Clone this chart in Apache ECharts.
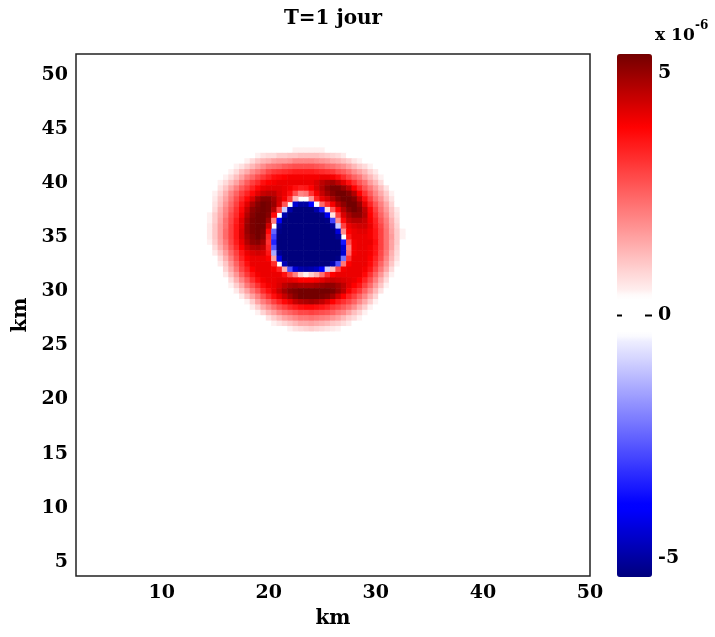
<!DOCTYPE html>
<html><head><meta charset="utf-8">
<script src="https://cdn.jsdelivr.net/npm/echarts@6/dist/echarts.min.js"></script>
<style>html,body{margin:0;padding:0;background:#fff}#c{width:715px;height:637px}</style>
</head><body><div id="c"></div>
<script>
// ---- text / ticks ----
var titleText = 'T=1 jour';
var axisNameText = 'km';
var xTickValues = [10, 20, 30, 40, 50];
var yTickValues = [5, 10, 15, 20, 25, 30, 35, 40, 45, 50];
var cbTickValues = [-5, 0, 5];
var cbMarkTicks = [0];
var cbScaleText = 'x 10';
var cbScaleExp = '-6';

// ---- field grid (km cell centres) ----
var gridX = [14,14.5,15,15.5,16,16.5,17,17.5,18,18.5,19,19.5,20,20.5,21,21.5,22,22.5,23,23.5,24,24.5,25,25.5,26,26.5,27,27.5,28,28.5,29,29.5,30,30.5,31,31.5,32,32.5];
var gridY = [43,42.5,42,41.5,41,40.5,40,39.5,39,38.5,38,37.5,37,36.5,36,35.5,35,34.5,34,33.5,33,32.5,32,31.5,31,30.5,30,29.5,29,28.5,28,27.5,27,26.5,26];

// values in units of 1e-6, one row per gridY entry, one column per gridX entry
var field = [
[0,0,0,0,0,0,0,0,0,0.1,0.1,0.2,0.2,0.3,0.3,0.3,0.4,0.5,0.5,0.5,0.5,0.5,0.5,0.4,0.3,0.3,0.2,0.1,0.1,0,0,0,0,0,0,0,0,0],
[0,0,0,0,0,0,0,0.1,0.2,0.3,0.5,0.7,0.8,0.8,1.0,1.0,1.1,1.1,1.2,1.2,1.2,1.2,1.1,1.0,0.9,0.8,0.6,0.4,0.3,0.2,0.1,0,0,0,0,0,0,0],
[0,0,0,0,0,0,0.2,0.3,0.5,0.8,1.1,1.3,1.4,1.6,1.7,1.7,1.8,2.0,2.0,2.0,2.0,1.9,1.8,1.7,1.5,1.4,1.2,1.0,0.7,0.5,0.3,0.1,0,0,0,0,0,0],
[0,0,0,0,0,0.2,0.5,0.7,1.0,1.3,1.6,1.9,2.2,2.3,2.4,2.6,2.7,2.8,2.8,2.8,2.8,2.7,2.6,2.4,2.3,2.1,1.9,1.6,1.3,1.0,0.8,0.5,0.3,0.1,0,0,0,0],
[0,0,0,0,0.2,0.5,0.8,1.2,1.5,1.9,2.2,2.5,2.9,3.1,3.2,3.3,3.4,3.5,3.5,3.5,3.5,3.4,3.3,3.2,3.1,2.8,2.6,2.3,1.9,1.6,1.3,0.9,0.6,0.2,0.1,0,0,0],
[0,0,0,0.2,0.5,0.8,1.2,1.6,2.1,2.4,2.8,3.1,3.4,3.7,3.8,3.9,4.0,4.0,4.0,4.0,4.0,4.0,4.1,4.1,4.0,3.7,3.3,2.9,2.5,2.2,1.7,1.3,0.9,0.5,0.2,0,0,0],
[0,0,0.2,0.5,0.8,1.2,1.6,2.1,2.6,3.0,3.3,3.7,3.9,4.0,4.1,4.1,4.1,4.1,4.1,4.1,4.1,4.3,4.6,4.8,4.9,4.6,4.2,3.7,3.2,2.7,2.3,1.7,1.3,0.8,0.4,0.1,0,0],
[0,0.1,0.3,0.7,1.1,1.6,2.1,2.6,3.0,3.4,3.8,4.1,4.2,4.2,4.2,4.1,4.0,3.7,3.5,3.6,3.9,4.3,4.7,5.1,5.3,5.3,5.0,4.6,3.9,3.3,2.7,2.2,1.7,1.2,0.7,0.3,0.1,0],
[0,0.2,0.5,0.9,1.4,2.0,2.5,3.0,3.4,3.8,4.2,4.5,4.6,4.6,4.3,4.1,3.7,2.8,2.0,2.2,3.2,4.0,4.5,4.9,5.2,5.4,5.4,5.2,4.7,3.9,3.2,2.6,2.0,1.5,1.0,0.5,0.2,0],
[0,0.2,0.6,1.1,1.6,2.2,2.8,3.3,3.8,4.3,4.9,5.2,5.2,4.9,4.4,4.0,3.1,1.3,0,0,1.8,3.4,4.1,4.4,4.8,5.2,5.4,5.4,5.2,4.5,3.7,3.0,2.3,1.8,1.2,0.7,0.3,0.1],
[0.1,0.3,0.7,1.2,1.8,2.4,3.0,3.6,4.2,4.8,5.2,5.4,5.3,5.0,4.3,2.7,0,-4.5,-5.0,-5.0,-4.0,0.3,2.4,3.3,4.0,4.7,5.1,5.4,5.4,5.0,4.2,3.4,2.7,2.1,1.5,0.9,0.4,0.1],
[0.1,0.4,0.8,1.4,2.0,2.6,3.2,3.8,4.5,5.1,5.3,5.4,5.3,4.7,3.0,-1.0,-4.9,-5.4,-5.4,-5.4,-5.4,-4.9,-3.6,0.7,2.7,3.9,4.7,5.2,5.4,5.2,4.6,3.8,3.0,2.3,1.7,1.1,0.6,0.2],
[0.2,0.5,1.0,1.5,2.1,2.8,3.3,4.0,4.7,5.2,5.4,5.4,5.2,3.8,0,-4.9,-5.4,-5.4,-5.4,-5.4,-5.4,-5.4,-5.3,-4.2,0.7,3.0,4.3,4.8,5.1,5.1,4.7,3.9,3.2,2.5,1.9,1.2,0.7,0.2],
[0.2,0.5,1.0,1.6,2.3,2.9,3.5,4.2,4.9,5.3,5.4,5.4,4.9,2.1,-4.0,-5.4,-5.4,-5.4,-5.4,-5.4,-5.4,-5.4,-5.4,-5.3,-3.0,1.9,3.8,4.5,4.7,4.7,4.5,4.0,3.4,2.7,2.1,1.4,0.8,0.3],
[0.2,0.6,1.1,1.7,2.3,3.0,3.6,4.2,5.0,5.3,5.4,5.4,4.4,0,-5.1,-5.4,-5.4,-5.4,-5.4,-5.4,-5.4,-5.4,-5.4,-5.4,-5.1,-1.0,3.0,4.1,4.3,4.4,4.4,4.1,3.5,2.9,2.2,1.5,0.9,0.4],
[0.2,0.6,1.1,1.7,2.4,3.0,3.6,4.3,5.0,5.3,5.4,5.3,3.8,-2.5,-5.3,-5.4,-5.4,-5.4,-5.4,-5.4,-5.4,-5.4,-5.4,-5.4,-5.4,-4.4,1.9,3.9,4.1,4.2,4.2,4.0,3.6,3.0,2.3,1.6,1.0,0.5],
[0.2,0.6,1.1,1.7,2.4,3.0,3.6,4.3,4.9,5.2,5.4,5.2,3.4,-3.0,-5.4,-5.4,-5.4,-5.4,-5.4,-5.4,-5.4,-5.4,-5.4,-5.4,-5.4,-5.1,0,3.6,4.1,4.1,4.1,4.0,3.6,3.0,2.3,1.7,1.0,0.5],
[0.1,0.5,1.0,1.6,2.2,2.9,3.5,4.1,4.7,5.1,5.2,4.9,3.2,-3.4,-5.4,-5.4,-5.4,-5.4,-5.4,-5.4,-5.4,-5.4,-5.4,-5.4,-5.4,-5.4,-3.6,2.8,4.0,4.1,4.1,4.1,3.7,3.0,2.3,1.6,1.0,0.4],
[0.1,0.3,0.8,1.4,2.0,2.7,3.3,3.9,4.4,4.7,4.8,4.6,3.4,-2.7,-5.4,-5.4,-5.4,-5.4,-5.4,-5.4,-5.4,-5.4,-5.4,-5.4,-5.4,-5.4,-4.5,2.2,4.0,4.1,4.1,4.0,3.6,3.0,2.3,1.6,0.9,0.4],
[0,0.2,0.6,1.1,1.7,2.4,3.0,3.6,4.1,4.3,4.4,4.3,3.6,-1.5,-5.2,-5.4,-5.4,-5.4,-5.4,-5.4,-5.4,-5.4,-5.4,-5.4,-5.4,-5.4,-4.5,2.4,4.0,4.1,4.1,4.0,3.6,2.9,2.2,1.4,0.8,0.3],
[0,0.1,0.3,0.8,1.4,2.1,2.8,3.4,3.9,4.1,4.1,4.1,3.9,1.6,-4.3,-5.4,-5.4,-5.4,-5.4,-5.4,-5.4,-5.4,-5.4,-5.4,-5.4,-5.3,-2.3,3.2,4.1,4.1,4.1,3.9,3.4,2.8,2.0,1.3,0.7,0.2],
[0,0,0.2,0.6,1.1,1.8,2.5,3.1,3.7,4.1,4.1,4.1,4.1,3.3,0,-4.8,-5.4,-5.4,-5.4,-5.4,-5.4,-5.4,-5.4,-5.4,-4.9,-2.8,2.2,3.9,4.1,4.1,4.1,3.8,3.2,2.5,1.8,1.1,0.5,0.1],
[0,0,0.1,0.4,0.9,1.5,2.2,2.9,3.4,3.9,4.1,4.1,4.1,4.0,3.4,1.4,-2.8,-4.5,-4.9,-5.0,-4.9,-4.7,-4.0,-1.0,1.2,2.9,4.0,4.1,4.1,4.1,4.0,3.6,2.9,2.2,1.5,0.8,0.3,0],
[0,0,0,0.2,0.6,1.2,1.8,2.5,3.1,3.6,4.0,4.1,4.1,4.1,4.1,3.7,2.9,2.1,1.0,0.5,1.0,1.4,2.3,3.3,3.9,4.1,4.1,4.1,4.1,4.1,3.8,3.2,2.5,1.8,1.1,0.5,0.1,0],
[0,0,0,0.1,0.3,0.8,1.4,2.0,2.6,3.2,3.7,4.0,4.1,4.1,4.2,4.2,4.2,4.1,3.9,3.9,3.9,4.0,4.2,4.4,4.5,4.4,4.3,4.2,4.1,3.9,3.4,2.8,2.1,1.4,0.8,0.3,0,0],
[0,0,0,0,0.1,0.5,1.0,1.5,2.2,2.7,3.2,3.7,4.0,4.1,4.3,4.6,4.8,4.9,4.8,4.8,4.8,4.9,5.0,5.1,5.1,4.9,4.6,4.2,3.9,3.6,3.0,2.4,1.7,1.1,0.5,0.1,0,0],
[0,0,0,0,0,0.2,0.6,1.1,1.6,2.2,2.7,3.3,3.7,4.1,4.5,4.9,5.2,5.3,5.4,5.4,5.4,5.4,5.4,5.4,5.3,5.0,4.6,4.0,3.5,3.1,2.5,1.9,1.3,0.7,0.2,0,0,0],
[0,0,0,0,0,0,0.2,0.6,1.1,1.6,2.1,2.7,3.2,3.7,4.1,4.5,4.9,5.2,5.4,5.4,5.4,5.4,5.3,5.2,4.9,4.4,3.9,3.4,3.0,2.5,2.0,1.4,0.9,0.4,0.1,0,0,0],
[0,0,0,0,0,0,0.1,0.2,0.5,1.0,1.6,2.1,2.5,3.0,3.4,3.8,4.1,4.5,4.7,4.8,4.9,4.8,4.6,4.3,3.9,3.5,3.2,2.9,2.5,2.0,1.5,1.0,0.5,0.1,0,0,0,0],
[0,0,0,0,0,0,0,0,0.2,0.6,1.0,1.5,1.9,2.3,2.7,3.0,3.3,3.5,3.7,3.8,3.8,3.7,3.6,3.4,3.1,2.9,2.6,2.3,1.9,1.4,1.0,0.5,0.1,0,0,0,0,0],
[0,0,0,0,0,0,0,0,0,0.2,0.5,0.9,1.3,1.6,2.0,2.3,2.5,2.7,2.9,2.9,3.0,2.9,2.8,2.7,2.5,2.2,2.0,1.6,1.2,0.9,0.5,0.2,0,0,0,0,0,0],
[0,0,0,0,0,0,0,0,0,0,0.2,0.4,0.7,1.0,1.3,1.6,1.8,2.0,2.2,2.2,2.3,2.2,2.1,2.0,1.8,1.6,1.3,1.0,0.8,0.5,0.2,0,0,0,0,0,0,0],
[0,0,0,0,0,0,0,0,0,0,0,0.1,0.3,0.5,0.7,0.9,1.1,1.3,1.5,1.5,1.6,1.5,1.4,1.3,1.1,1.0,0.8,0.6,0.3,0.1,0,0,0,0,0,0,0,0],
[0,0,0,0,0,0,0,0,0,0,0,0,0,0.1,0.2,0.4,0.5,0.7,0.8,0.9,1.0,0.9,0.8,0.7,0.6,0.5,0.3,0.2,0.1,0,0,0,0,0,0,0,0,0],
[0,0,0,0,0,0,0,0,0,0,0,0,0,0,0,0.1,0.1,0.2,0.3,0.4,0.4,0.4,0.3,0.2,0.1,0.1,0,0,0,0,0,0,0,0,0,0,0,0]
];

// ---- styling ----
var FONT = 'DejaVu Serif';
var VMIN = -5.4, VMAX = 5.4;
function cmap(v) {
  var a = Math.abs(v), r, g, b, light;
  if (a < 0.4) { return 'rgb(255,255,255)'; }
  if (a < 0.5) { light = 255 - (a - 0.4) / 0.1 * 15; r = 255; g = light; b = light; }
  else if (a <= 3.9) { light = 240 * (1 - (a - 0.5) / 3.4); r = 255; g = light; b = light; }
  else { r = 255 - 140 * Math.min(1, (a - 3.9) / 1.5); g = 0; b = 0; }
  if (v < 0) {
    if (a > 3.9) return 'rgb(0,0,' + Math.min(255, Math.round(r + 10)) + ')';
    return 'rgb(' + Math.round(g) + ',' + Math.round(g) + ',255)';
  }
  return 'rgb(' + Math.round(r) + ',' + Math.round(g) + ',' + Math.round(b) + ')';
}
var cbColors = [];
for (var k = 0; k <= 108; k++) { cbColors.push(cmap(VMIN + k * 0.1)); }

var cells = [];
for (var i = 0; i < gridY.length; i++) {
  for (var j = 0; j < gridX.length; j++) {
    var v = field[i][j];
    if (Math.abs(v) >= 0.05) cells.push([gridX[j], gridY[i], v]);
  }
}
var halfX = (gridX[1] - gridX[0]) / 2;
var halfY = (gridY[0] - gridY[1]) / 2;

var labelStyle = { fontFamily: FONT, fontWeight: 'bold', fontSize: 19, color: '#000' };

var chart = echarts.init(document.getElementById('c'), null, { renderer: 'canvas' });
chart.setOption({
  animation: false,
  backgroundColor: '#fff',
  grid: [
    { left: 76, top: 54, width: 514, height: 522, show: true, borderColor: '#222', borderWidth: 1.5, backgroundColor: 'transparent' },
    { left: 617, top: 54, width: 35, height: 523, show: false }
  ],
  xAxis: [
    { gridIndex: 0, type: 'value', min: 2, max: 50,
      axisLine: { show: false }, axisTick: { show: false }, splitLine: { show: false },
      axisLabel: Object.assign({ customValues: xTickValues, margin: 8 }, labelStyle),
      name: axisNameText, nameLocation: 'middle', nameGap: 33,
      nameTextStyle: { fontFamily: FONT, fontWeight: 'bold', fontSize: 20, color: '#000' } },
    { gridIndex: 1, type: 'value', min: 0, max: 1, show: false }
  ],
  yAxis: [
    { gridIndex: 0, type: 'value', min: 3.7, max: 51.9,
      axisLine: { show: false }, axisTick: { show: false }, splitLine: { show: false },
      axisLabel: Object.assign({ customValues: yTickValues, margin: 8 }, labelStyle),
      name: axisNameText, nameLocation: 'middle', nameGap: 44,
      nameTextStyle: { fontFamily: FONT, fontWeight: 'bold', fontSize: 20, color: '#000' } },
    { gridIndex: 1, type: 'value', min: VMIN, max: VMAX, position: 'right',
      axisLine: { show: false }, splitLine: { show: false }, axisTick: { show: false },
      axisLabel: Object.assign({ customValues: cbTickValues, margin: 6 }, labelStyle) }
  ],
  visualMap: {
    type: 'continuous', min: VMIN, max: VMAX, dimension: 2, seriesIndex: 0,
    calculable: false, hoverLink: false, show: true, z: 1,
    left: 617, top: 54, itemWidth: 35, itemHeight: 523, padding: 0,
    inRange: { color: cbColors }
  },
  graphic: [
    { type: 'text', x: 333, y: 9, z: 10,
      style: { text: titleText, align: 'center', verticalAlign: 'top', fontFamily: FONT, fontWeight: 'bold', fontSize: 20, fill: '#000' } },
    { type: 'text', x: 655, y: 27, z: 10,
      style: { text: cbScaleText, align: 'left', verticalAlign: 'top', fontFamily: FONT, fontWeight: 'bold', fontSize: 17, fill: '#000' } },
    { type: 'text', x: 695, y: 20, z: 10,
      style: { text: cbScaleExp, align: 'left', verticalAlign: 'top', fontFamily: FONT, fontWeight: 'bold', fontSize: 12, fill: '#000' } }
  ],
  series: [{
    type: 'custom', coordinateSystem: 'cartesian2d', xAxisIndex: 0, yAxisIndex: 0,
    clip: true, silent: true,
    data: cells,
    renderItem: function (params, api) {
      var x = api.value(0), y = api.value(1);
      var p1 = api.coord([x - halfX, y + halfY]);
      var p2 = api.coord([x + halfX, y - halfY]);
      return { type: 'rect',
        shape: { x: p1[0] - 0.3, y: p1[1] - 0.3, width: p2[0] - p1[0] + 0.6, height: p2[1] - p1[1] + 0.6 },
        style: { fill: api.visual('color') } };
    }
  }, {
    type: 'custom', coordinateSystem: 'cartesian2d', xAxisIndex: 1, yAxisIndex: 1,
    silent: true, z: 20,
    data: cbMarkTicks.map(function (t) { return [0, t]; }),
    renderItem: function (params, api) {
      var y = api.value(1);
      var pl = api.coord([0, y]);
      var pr = api.coord([1, y]);
      return { type: 'group', children: [
        { type: 'line', shape: { x1: pl[0], y1: pl[1], x2: pl[0] + 5, y2: pl[1] }, style: { stroke: '#000', lineWidth: 2 } },
        { type: 'line', shape: { x1: pr[0] - 7, y1: pr[1], x2: pr[0], y2: pr[1] }, style: { stroke: '#000', lineWidth: 2 } }
      ] };
    }
  }]
});
</script>
</body></html>
